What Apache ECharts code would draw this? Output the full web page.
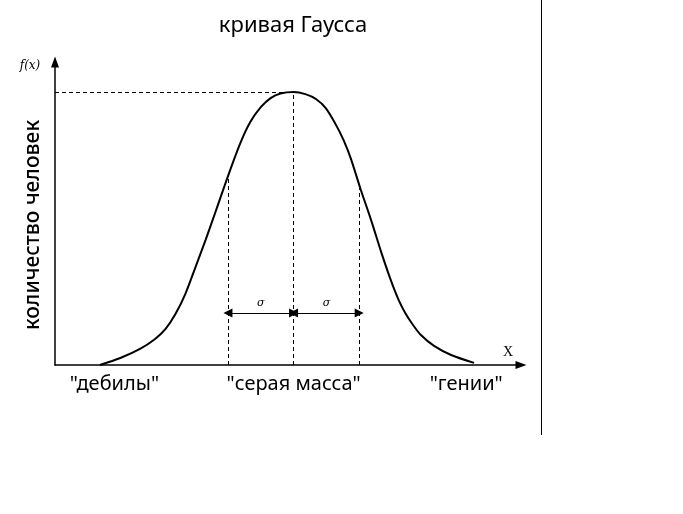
<!DOCTYPE html>
<html>
<head>
<meta charset="utf-8">
<script src="https://cdn.jsdelivr.net/npm/echarts@6/dist/echarts.min.js"></script>
<style>html,body{margin:0;padding:0;background:#fff;}#c{width:683px;height:514px;}</style>
</head>
<body>
<div id="c"></div>
<script>
// curve: x in units of sigma from the mean, y in % of axis height
const curveX = [-2.95, -2.64, -2.34, -2.11, -1.95, -1.8, -1.65, -1.5, -1.34, -1.19, -1.01, -0.81, -0.66, -0.5, -0.35, -0.2, 0, 0.18, 0.34, 0.49, 0.64, 0.76, 0.87, 1.02, 1.18, 1.33, 1.48, 1.6, 1.71, 1.82, 1.94, 2.14, 2.4, 2.75];
const curveY = [0, 2.3, 5.3, 8.6, 11.9, 16.8, 23.4, 32.0, 41.3, 50.5, 61.7, 73.3, 80.2, 85.1, 88.1, 89.6, 90.1, 89.4, 87.8, 84.8, 79.5, 74.3, 68.3, 58.1, 47.9, 37.6, 28.1, 21.5, 16.8, 13.2, 9.9, 6.3, 3.3, 0.7];
const guideX = [-1, 0, 1];
const guideTop = [62, 90.1, 59.4];
const sigmaArrowY = 17.2;
const groupX = [-2.73, 0, 2.63];
const groupLabels = ['"дебилы"', '"серая масса"', '"гении"'];
const titleText = 'кривая Гаусса';
const yName = 'количество человек';
const xMin = -3.635, xMax = 3.465, yMax = 100;

const chart = echarts.init(document.getElementById('c'), null, {renderer: 'canvas'});
const font = 'Noto Sans';
const dash = {color: '#000', width: 1, type: [4, 3]};

const guideData = guideX.map((x, i) => [{coord: [x, 0]}, {coord: [x, guideTop[i]]}]);
guideData.push([{coord: [xMin, guideTop[1]]}, {coord: [0, guideTop[1]]}]);

chart.setOption({
  animation: false,
  backgroundColor: '#fff',
  title: {text: titleText, left: 288, textAlign: 'center', top: 10,
    textStyle: {fontFamily: font, fontSize: 22, fontWeight: 'normal', color: '#000'}},
  grid: {left: 55, right: 683 - 521, top: 62, bottom: 514 - 365, containLabel: false},
  xAxis: {type: 'value', min: xMin, max: xMax,
    axisLine: {onZero: false, lineStyle: {color: '#000', width: 1.5}, symbol: ['none', 'triangle'], symbolSize: [8, 11]},
    axisTick: {show: false}, splitLine: {show: false},
    axisLabel: {customValues: groupX, margin: 9, color: '#000', fontFamily: font, fontSize: 20,
      formatter: function (v) { let k = 0; groupX.forEach((g, i) => { if (Math.abs(g - v) < Math.abs(groupX[k] - v)) k = i; }); return groupLabels[k]; }}
  },
  yAxis: {type: 'value', min: 0, max: yMax,
    axisLine: {show: true, onZero: false, lineStyle: {color: '#000', width: 1.5}, symbol: ['none', 'triangle'], symbolSize: [8, 11]},
    axisTick: {show: false}, splitLine: {show: false}, axisLabel: {show: false}
  },
  graphic: [
    {type: 'text', x: 33, y: 225, rotation: Math.PI / 2,
      style: {text: yName, fontFamily: font, fontSize: 21, fontWeight: 500, fill: '#000', align: 'center', verticalAlign: 'middle'}},
    {type: 'text', x: 30, y: 66, style: {text: 'f(x)', fontFamily: 'DejaVu Serif', fontStyle: 'italic', fontSize: 12, fill: '#000', align: 'center', verticalAlign: 'middle'}},
    {type: 'text', x: 508, y: 352, style: {text: 'X', fontFamily: 'Liberation Serif', fontSize: 14, fill: '#000', align: 'center', verticalAlign: 'middle'}},
    {type: 'line', shape: {x1: 541.5, y1: 0, x2: 541.5, y2: 435}, style: {stroke: '#000', lineWidth: 1}}
  ],
  series: [
    {type: 'line', data: curveX.map((x, i) => [x, curveY[i]]), smooth: 0.3, showSymbol: false,
      lineStyle: {color: '#000', width: 2}},
    {type: 'line', data: [], markLine: {silent: true, symbol: 'none', lineStyle: dash, label: {show: false}, data: guideData}},
    {type: 'line', data: [], markLine: {silent: true, symbol: ['triangle', 'triangle'], symbolSize: 9,
      lineStyle: {color: '#000', width: 1, type: 'solid'},
      label: {show: true, position: 'insideMiddleTop', distance: 4, formatter: 'σ', color: '#000', fontFamily: 'DejaVu Serif', fontStyle: 'italic', fontSize: 11},
      data: [[{coord: [guideX[0], sigmaArrowY]}, {coord: [guideX[1], sigmaArrowY]}], [{coord: [guideX[1], sigmaArrowY]}, {coord: [guideX[2], sigmaArrowY]}]]}}
  ]
});
</script>
</body>
</html>
